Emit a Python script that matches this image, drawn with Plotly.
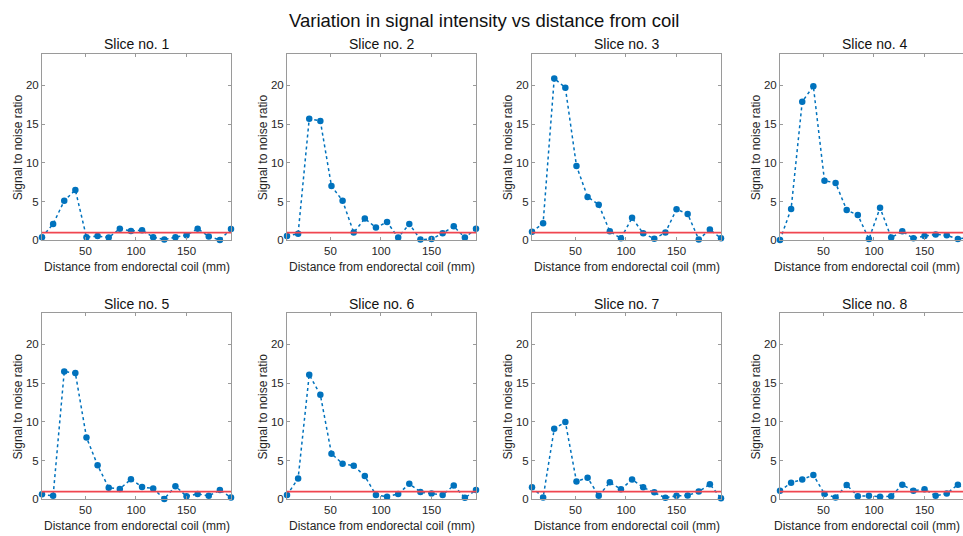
import plotly.graph_objects as go

W, H = 963, 536

distance_mm = [7, 18, 29, 40, 51, 62, 73, 84, 95, 106, 117, 128, 139, 150, 161, 172, 183, 194]

slice_titles = ["Slice no. 1", "Slice no. 2", "Slice no. 3", "Slice no. 4",
                "Slice no. 5", "Slice no. 6", "Slice no. 7", "Slice no. 8"]

snr_slice1 = [0.4, 2.1, 5.1, 6.5, 0.4, 0.55, 0.35, 1.5, 1.2, 1.3, 0.4, 0.1, 0.4, 0.65, 1.5, 0.5, 0.05, 1.45]
snr_slice2 = [0.55, 0.85, 15.7, 15.4, 7.0, 5.1, 1.0, 2.8, 1.65, 2.35, 0.35, 2.1, 0.1, 0.15, 0.9, 1.8, 0.35, 1.5]
snr_slice3 = [1.1, 2.2, 20.9, 19.7, 9.6, 5.6, 4.6, 1.15, 0.25, 2.9, 0.9, 0.2, 1.0, 4.0, 3.4, 0.1, 1.4, 0.25]
snr_slice4 = [0.05, 4.05, 17.9, 19.9, 7.7, 7.4, 3.9, 3.25, 0.15, 4.2, 0.35, 1.15, 0.25, 0.55, 0.75, 0.65, 0.15, 0.4]
snr_slice5 = [0.65, 0.45, 16.5, 16.3, 8.0, 4.4, 1.5, 1.35, 2.6, 1.6, 1.4, 0.05, 1.7, 0.4, 0.7, 0.45, 1.2, 0.25]
snr_slice6 = [0.55, 2.7, 16.1, 13.5, 5.9, 4.6, 4.35, 3.0, 0.55, 0.35, 0.7, 2.0, 0.95, 0.75, 0.55, 1.8, 0.2, 1.2]
snr_slice7 = [1.55, 0.25, 9.1, 10.0, 2.3, 2.8, 0.45, 2.2, 1.3, 2.55, 1.55, 0.9, 0.2, 0.45, 0.5, 1.0, 1.95, 0.15]
snr_slice8 = [1.1, 2.15, 2.55, 3.15, 0.7, 0.25, 1.85, 0.4, 0.45, 0.35, 0.4, 1.9, 1.1, 1.3, 0.45, 0.75, 1.9, 1.0]

all_snr = [snr_slice1, snr_slice2, snr_slice3, snr_slice4,
           snr_slice5, snr_slice6, snr_slice7, snr_slice8]

threshold = [1, 1]
y_ticks = [0, 5, 10, 15, 20]
x_ticks = [50, 100, 150]

main_title = "Variation in signal intensity vs distance from coil"
x_label = "Distance from endorectal coil (mm)"
y_label = "Signal to noise ratio"

FONT = "Liberation Sans, Arial, Helvetica, sans-serif"
BLUE = "#0072BD"
RED = "rgb(240,70,80)"
AXC = "#9a9a9a"
TXT = "#262626"

# pixel layout
col_left = [42, 287, 532, 780]
col_w = 189
row_top = [55, 317]
row_h = 188
xmin, xmax = distance_mm[0], distance_mm[-1]
px_per_unit = col_w / (xmax - xmin)

fig = go.Figure()
annotations = []
layout_axes = {}

annotations.append(dict(text=main_title, x=484 / W, y=1 - 21 / H, xref="paper", yref="paper",
                        showarrow=False, xanchor="center", yanchor="middle",
                        font=dict(family=FONT, size=18.5, color="#111")))

for i, snr in enumerate(all_snr):
    r, c = divmod(i, 4)
    k = i + 1
    xa = "x" if k == 1 else f"x{k}"
    ya = "y" if k == 1 else f"y{k}"
    left = col_left[c]
    right = min(left + col_w, W)
    top = row_top[r]
    bottom = top + row_h
    x_hi = xmin + (right - left) / px_per_unit

    fig.add_trace(go.Scatter(x=distance_mm, y=snr, xaxis=xa, yaxis=ya, mode="lines+markers",
                             line=dict(color=BLUE, width=1.5, dash="dot"),
                             marker=dict(color=BLUE, size=6.5),
                             cliponaxis=False, showlegend=False))
    fig.add_trace(go.Scatter(x=[xmin, xmax], y=threshold, xaxis=xa, yaxis=ya, mode="lines",
                             line=dict(color=RED, width=1.8), showlegend=False))

    layout_axes["xaxis" if k == 1 else f"xaxis{k}"] = dict(
        domain=[left / W, right / W], anchor=ya, range=[xmin, x_hi],
        tickvals=x_ticks, ticks="inside", ticklen=3, tickcolor=AXC,
        showline=True, linecolor=AXC, linewidth=1, mirror="ticks",
        showgrid=False, zeroline=False,
        tickfont=dict(family=FONT, size=11.5, color=TXT))
    layout_axes["yaxis" if k == 1 else f"yaxis{k}"] = dict(
        domain=[1 - bottom / H, 1 - top / H], anchor=xa, range=[0, 24],
        tickvals=y_ticks, ticks="inside", ticklen=3, tickcolor=AXC,
        showline=True, linecolor=AXC, linewidth=1,
        mirror=("ticks" if c < 3 else False),
        showgrid=False, zeroline=False,
        tickfont=dict(family=FONT, size=11.5, color=TXT))

    annotations.append(dict(text=slice_titles[i], x=(left + col_w / 2) / W, y=1 - (top - 10) / H,
                            xref="paper", yref="paper", showarrow=False,
                            xanchor="center", yanchor="middle",
                            font=dict(family=FONT, size=14, color="#111")))
    if c < 3:
        annotations.append(dict(text=x_label, x=(left + col_w / 2) / W, y=1 - (bottom + 27) / H,
                                xref="paper", yref="paper", showarrow=False,
                                xanchor="center", yanchor="middle",
                                font=dict(family=FONT, size=12, color=TXT)))
    else:
        annotations.append(dict(text=x_label, x=(W - 1) / W, y=1 - (bottom + 27) / H,
                                xref="paper", yref="paper", showarrow=False,
                                xanchor="right", yanchor="middle",
                                font=dict(family=FONT, size=12, color=TXT)))
    annotations.append(dict(text=y_label, x=(left - 24) / W, y=1 - (top + row_h / 2) / H,
                            xref="paper", yref="paper", showarrow=False, textangle=-90,
                            xanchor="center", yanchor="middle",
                            font=dict(family=FONT, size=12, color=TXT)))

fig.update_layout(width=W, height=H, margin=dict(l=0, r=0, t=0, b=0),
                  paper_bgcolor="white", plot_bgcolor="white",
                  annotations=annotations, **layout_axes)

fig.write_html("out.html")
